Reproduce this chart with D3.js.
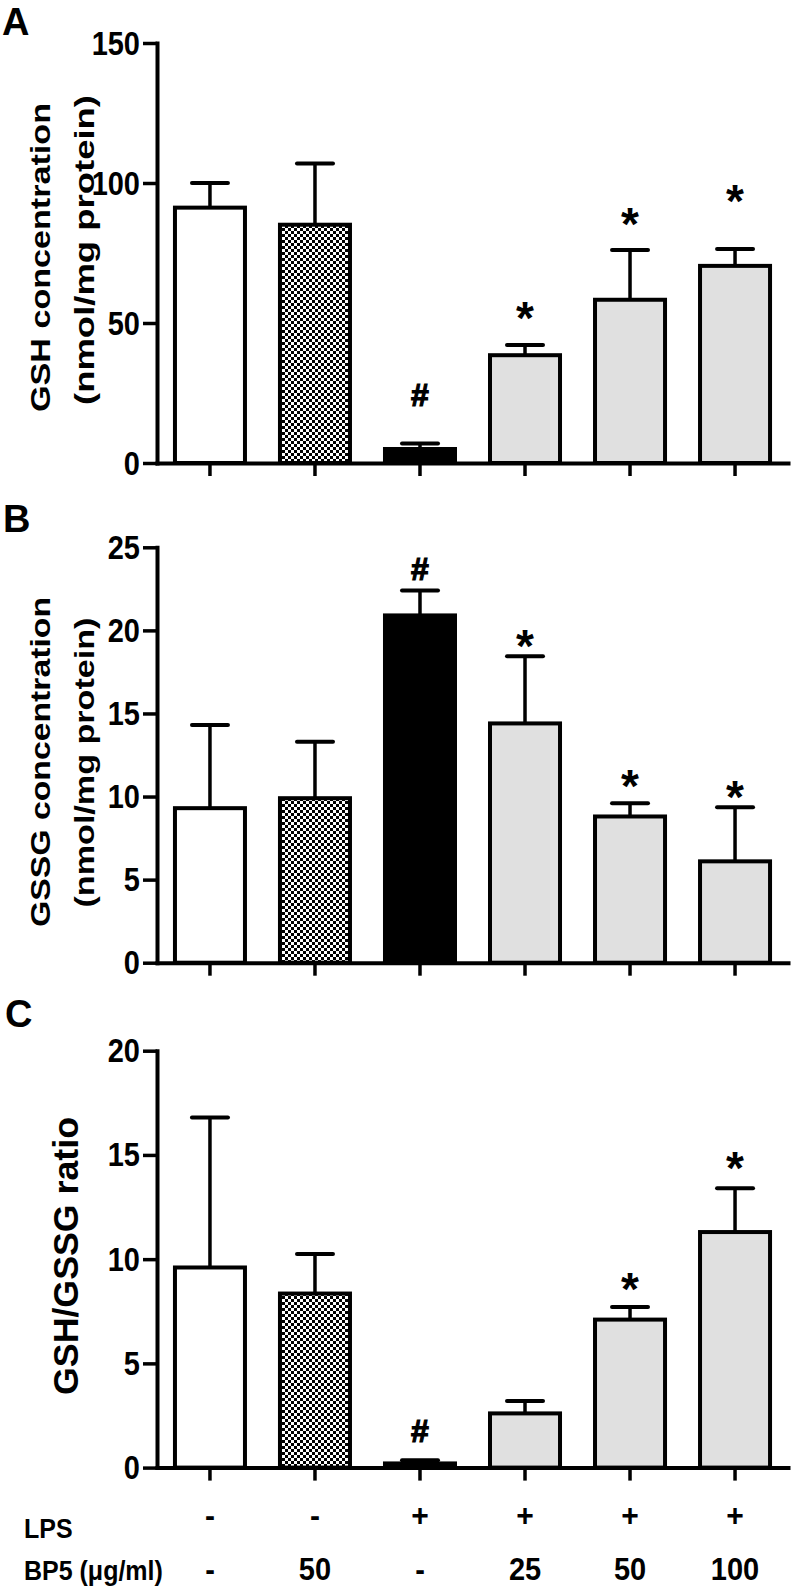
<!DOCTYPE html>
<html>
<head>
<meta charset="utf-8">
<script src="https://cdn.jsdelivr.net/npm/d3@7"></script>
<style>
  html, body { margin: 0; padding: 0; background: #fff; }
  svg { display: block; }
  text { font-family: "Liberation Sans", Arial, sans-serif; font-weight: bold; fill: #000; }
</style>
</head>
<body>
<svg id="chart" width="791" height="1593"></svg>
<script>
// ---------------- DATA ----------------
const categories = ["Control", "BP5 50", "LPS", "LPS+BP5 25", "LPS+BP5 50", "LPS+BP5 100"];
const lpsLabels = ["-", "-", "+", "+", "+", "+"];
const bp5Labels = ["-", "50", "-", "25", "50", "100"];

// Panel A: GSH concentration (nmol/mg protein)
const gshMean = [91.2, 85.1, 5.0, 38.5, 58.3, 70.4];
const gshSem  = [8.8, 21.9, 2.0, 3.6, 17.8, 6.0];
const gshMarks = ["", "", "#", "*", "*", "*"];
const gshMarkAt = [null, null, 24.3, 55.7, 89.3, 97.5];
const gshTicks = [0, 50, 100, 150];

// Panel B: GSSG concentration (nmol/mg protein)
const gssgMean = [9.3, 9.9, 20.9, 14.4, 8.8, 6.1];
const gssgSem  = [5.0, 3.4, 1.5, 4.05, 0.8, 3.25];
const gssgMarks = ["", "", "#", "*", "*", "*"];
const gssgMarkAt = [null, null, 23.75, 19.7, 11.3, 10.6];
const gssgTicks = [0, 5, 10, 15, 20, 25];

// Panel C: GSH/GSSG ratio
const ratioMean = [9.6, 8.35, 0.2, 2.6, 7.1, 11.3];
const ratioSem  = [7.2, 1.9, 0.15, 0.6, 0.6, 2.1];
const ratioMarks = ["", "", "#", "", "*", "*"];
const ratioMarkAt = [null, null, 1.8, null, 9.1, 14.9];
const ratioTicks = [0, 5, 10, 15, 20];

// ---------------- STYLE / LAYOUT ----------------
const fills = ["#ffffff", "url(#checker)", "#000000", "#e0e0e0", "#e0e0e0", "#e0e0e0"];
const svg = d3.select("#chart");

const defs = svg.append("defs");
const pat = defs.append("pattern").attr("id", "checker")
  .attr("patternUnits", "userSpaceOnUse").attr("width", 6).attr("height", 6);
pat.append("rect").attr("width", 6).attr("height", 6).attr("fill", "#fff");
pat.append("rect").attr("x", 0).attr("y", 0).attr("width", 3).attr("height", 3).attr("fill", "#000");
pat.append("rect").attr("x", 3).attr("y", 3).attr("width", 3).attr("height", 3).attr("fill", "#000");

const axisX = 157, axisEnd = 788;
const x = d3.scaleBand().domain(categories).range([axisX, axisEnd])
  .paddingInner(1 / 3).paddingOuter(0.171);

// horizontal text with a slight vertical stretch (as in the reference)
function htext(parent, tx, ty, str, size, anchor, sy) {
  return parent.append("text")
    .attr("transform", `translate(${tx},${ty}) scale(1,${sy || 1.12})`)
    .attr("text-anchor", anchor || "start")
    .attr("font-size", size)
    .text(str);
}

const panels = [
  { letter: "A", letterPos: [2, 35], mean: gshMean, sem: gshSem, marks: gshMarks, markAt: gshMarkAt,
    ticks: gshTicks, y0: 463, y1: 43,
    titles: [
      { text: "GSH concentration", x: 50, y: 257.5, len: 309, size: 28 },
      { text: "(nmol/mg protein)", x: 94, y: 250, len: 310, size: 28 }
    ] },
  { letter: "B", letterPos: [3, 532], mean: gssgMean, sem: gssgSem, marks: gssgMarks, markAt: gssgMarkAt,
    ticks: gssgTicks, y0: 962.7, y1: 547.3,
    titles: [
      { text: "GSSG concentration", x: 50, y: 762, len: 330, size: 28 },
      { text: "(nmol/mg protein)", x: 94, y: 762.5, len: 290, size: 28 }
    ] },
  { letter: "C", letterPos: [5, 1027], mean: ratioMean, sem: ratioSem, marks: ratioMarks, markAt: ratioMarkAt,
    ticks: ratioTicks, y0: 1467.6, y1: 1050.7,
    titles: [
      { text: "GSH/GSSG ratio", x: 78, y: 1256, len: 278, size: 35 }
    ] }
];

panels.forEach(p => {
  const yMax = d3.max(p.ticks);
  const y = d3.scaleLinear().domain([0, yMax]).range([p.y0, p.y1]);
  const g = svg.append("g");

  // panel letter
  htext(g, p.letterPos[0], p.letterPos[1], p.letter, 38, "start", 1.0);

  // titles
  p.titles.forEach(t => {
    g.append("text")
      .attr("transform", `translate(${t.x},${t.y}) rotate(-90)`)
      .attr("text-anchor", "middle")
      .attr("font-size", t.size)
      .attr("textLength", t.len)
      .attr("lengthAdjust", "spacingAndGlyphs")
      .text(t.text);
  });

  // error bars
  const eb = g.append("g");
  categories.forEach((c, i) => {
    const cx = x(c) + x.bandwidth() / 2;
    const top = y(p.mean[i] + p.sem[i]);
    eb.append("line").attr("x1", cx).attr("x2", cx)
      .attr("y1", y(p.mean[i])).attr("y2", top)
      .attr("stroke", "#000").attr("stroke-width", 3.5);
    eb.append("line").attr("x1", cx - 18).attr("x2", cx + 18)
      .attr("y1", top).attr("y2", top)
      .attr("stroke", "#000").attr("stroke-width", 4).attr("stroke-linecap", "round");
  });

  // bars
  g.append("g").selectAll("rect").data(categories).join("rect")
    .attr("x", c => x(c))
    .attr("y", (c, i) => y(p.mean[i]))
    .attr("width", x.bandwidth())
    .attr("height", (c, i) => p.y0 - y(p.mean[i]))
    .attr("fill", (c, i) => fills[i])
    .attr("stroke", "#000").attr("stroke-width", 4);

  // significance marks
  categories.forEach((c, i) => {
    const m = p.marks[i];
    if (!m) return;
    const cx = x(c) + x.bandwidth() / 2;
    const yc = y(p.markAt[i]);
    const fs = m === "*" ? 46 : 32;
    const off = m === "*" ? 0.58 : 0.36;
    const t = htext(g, cx, yc + off * fs, m, fs, "middle", 1.0);
    if (m === "#") t.attr("stroke", "#000").attr("stroke-width", 1.2);
  });

  // y axis
  const ya = g.append("g").attr("transform", `translate(${axisX},0)`)
    .call(d3.axisLeft(y).tickValues(p.ticks).tickFormat(d3.format("d"))
      .tickSize(14).tickSizeOuter(0).tickPadding(2));
  // x axis
  const xa = g.append("g").attr("transform", `translate(0,${p.y0})`)
    .call(d3.axisBottom(x).tickFormat("").tickSize(13).tickSizeOuter(0));

  [ya, xa].forEach(a => {
    a.select(".domain").attr("stroke", "#000").attr("stroke-width", 4).attr("stroke-linecap", "square");
    a.selectAll(".tick line").attr("stroke", "#000").attr("stroke-width", 3.5);
  });
  ya.selectAll(".tick text")
    .attr("font-size", 29)
    .attr("dy", null).attr("y", null).attr("x", null)
    .attr("transform", "translate(-17,11) scale(1,1.12)")
    .attr("fill", "#000");
});

// bottom treatment labels
const lab = svg.append("g");
htext(lab, 24, 1538, "LPS", 25, "start", 1.1);
htext(lab, 24, 1580, "BP5 (\u03BCg/ml)", 25, "start", 1.1);
categories.forEach((c, i) => {
  const cx = x(c) + x.bandwidth() / 2;
  htext(lab, cx, 1526, lpsLabels[i], 30, "middle", 1.05);
  htext(lab, cx, 1580, bp5Labels[i], 29, "middle", 1.1);
});
</script>
</body>
</html>
